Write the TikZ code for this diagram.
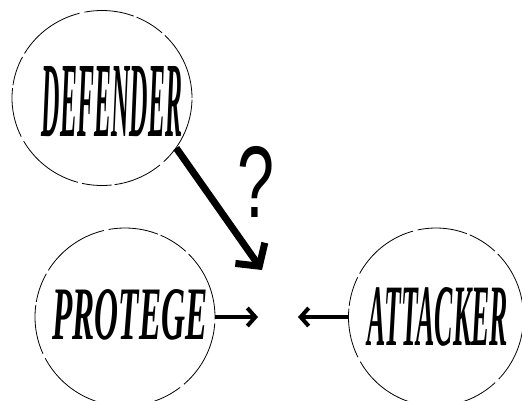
\documentclass[tikz,border=0pt]{standalone}
\usepackage{fontspec}
\setmainfont{Liberation Serif}
\usepackage{graphicx}
\usetikzlibrary{shapes.geometric,arrows.meta}
\tikzset{
  ell/.style={draw, ellipse, line width=0.8pt, inner sep=0pt,
    dash pattern=on 70pt off 4pt on 30pt off 3pt on 50pt off 5pt},
  lbl/.style={inner sep=0pt},
  smallarr/.style={line width=4pt, -{Straight Barb[length=8pt,width=18pt]}},
  bigarr/.style={line width=7pt, line cap=butt, -{Straight Barb[length=16pt,width=36pt]}}
}
\begin{document}
\begin{tikzpicture}[x=1pt,y=-1pt]
\useasboundingbox (0,0) rectangle (522,400);
% ellipses
\node[ell, minimum width=180pt, minimum height=175pt] (def) at (102,98) {};
\node[ell, minimum width=180pt, minimum height=178pt] (pro) at (125,317) {};
\node[ell, minimum width=175pt, minimum height=178pt] (att) at (436,317) {};
% labels
\node[lbl] (deft) at (112,102) {\resizebox{140pt}{70pt}{\bfseries\itshape DEFENDER}};
\node[lbl] (prot) at (130,315) {\resizebox{155pt}{50pt}{\bfseries\itshape PROTEGE}};
\node[lbl] (attt) at (438,317) {\resizebox{140pt}{58pt}{\bfseries\itshape ATTACKER}};
\node[lbl] (q) at (256,182) {\resizebox{37pt}{71pt}{\fontspec{Liberation Sans}?}};
% connector endpoints
\coordinate (tip) at (262,270);
\coordinate (pin) at (258,317);
\coordinate (ain) at (298,317);
\draw[bigarr] (def.-34) -- (tip);
\draw[smallarr] (pro.east) -- (pin);
\draw[smallarr] (att.west) -- (ain);
\end{tikzpicture}
\end{document}
